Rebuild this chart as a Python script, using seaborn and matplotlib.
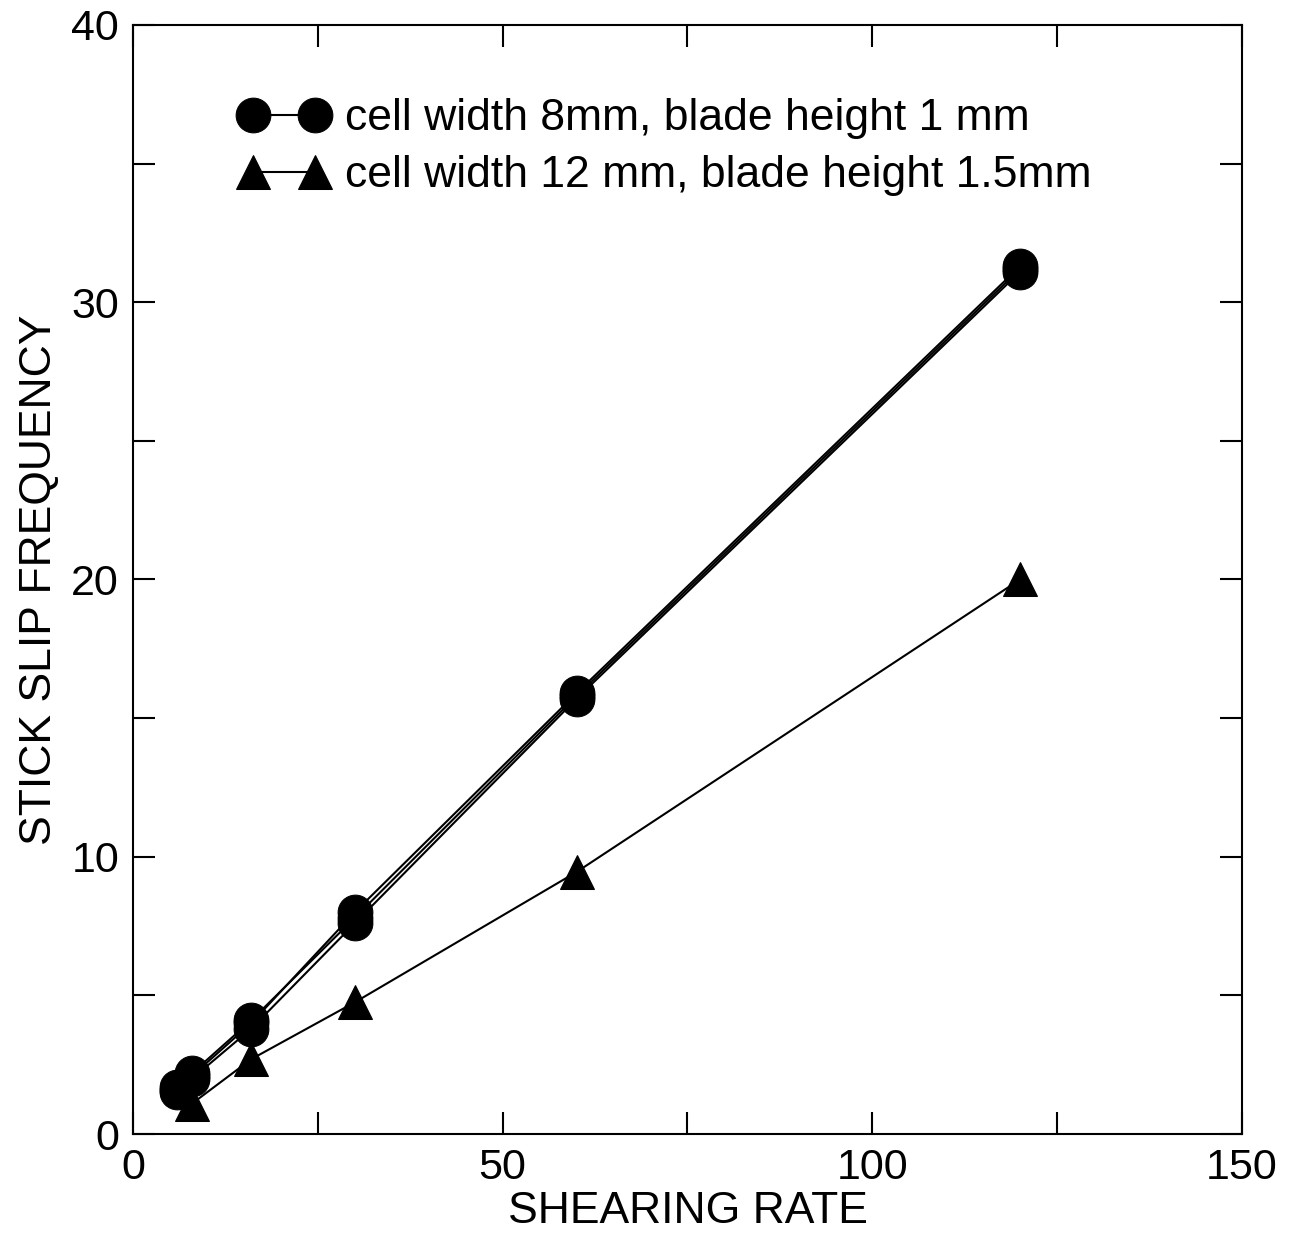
import numpy as np
import pandas as pd
from matplotlib import pyplot as plt
from matplotlib.ticker import MultipleLocator
import seaborn as sns

# data
rate_circ = [6, 8, 16, 30, 60, 120]
freq_circ_a = [1.6, 2.1, 4.0, 8.0, 15.9, 31.3]
freq_circ_b = [1.5, 2.0, 3.8, 7.6, 15.7, 31.1]
freq_circ_c = [1.7, 2.2, 4.1, 7.8, 15.8, 31.2]

rate_tri = [8, 16, 30, 60, 120]
freq_tri = [1.1, 2.7, 4.75, 9.45, 20.0]

label_circ = 'cell width 8mm, blade height 1 mm'
label_tri = 'cell width 12 mm, blade height 1.5mm'

sns.set_style('ticks')
plt.rcParams['font.family'] = ['Liberation Sans', 'DejaVu Sans']
plt.rcParams['text.color'] = 'black'
plt.rcParams['axes.labelcolor'] = 'black'

fig = plt.figure(figsize=(12.95, 12.41), dpi=100)
ax = fig.add_axes([0.1027, 0.0862, 0.8563, 0.8937])

circ_sets = [freq_circ_a, freq_circ_b, freq_circ_c]
for i, ys in enumerate(circ_sets):
    df = pd.DataFrame({'rate': rate_circ, 'freq': ys})
    sns.lineplot(data=df, x='rate', y='freq', ax=ax, color='black', lw=1.5,
                 marker='o', markersize=25, mec='black', mfc='black',
                 label=label_circ if i == 0 else '_nolegend_')

df_tri = pd.DataFrame({'rate': rate_tri, 'freq': freq_tri})
sns.lineplot(data=df_tri, x='rate', y='freq', ax=ax, color='black', lw=1.5,
             marker='^', markersize=25, mec='black', mfc='black', label=label_tri)

ax.set_xlim(0, 150)
ax.set_ylim(0, 40)
ax.xaxis.set_major_locator(MultipleLocator(50))
ax.xaxis.set_minor_locator(MultipleLocator(25))
ax.yaxis.set_major_locator(MultipleLocator(10))
ax.yaxis.set_minor_locator(MultipleLocator(5))
ax.tick_params(which='both', direction='in', top=True, right=True, width=1.5,
               colors='black', labelcolor='black')
ax.tick_params(which='major', length=16, labelsize=31, pad=10)
ax.tick_params(which='minor', length=16)
for s in ax.spines.values():
    s.set_linewidth(1.5)
    s.set_color('black')

ax.set_xlabel('SHEARING RATE', fontsize=32, labelpad=2, color='black')
ax.set_ylabel('STICK SLIP FREQUENCY', fontsize=32, labelpad=8, color='black')

ax.legend(loc='upper left', bbox_to_anchor=(0.06, 0.97), frameon=False, fontsize=32,
          numpoints=2, handlelength=2.0, handletextpad=0.37, labelspacing=0.36,
          markerscale=1.0)

fig.savefig('out.png', dpi=100)
